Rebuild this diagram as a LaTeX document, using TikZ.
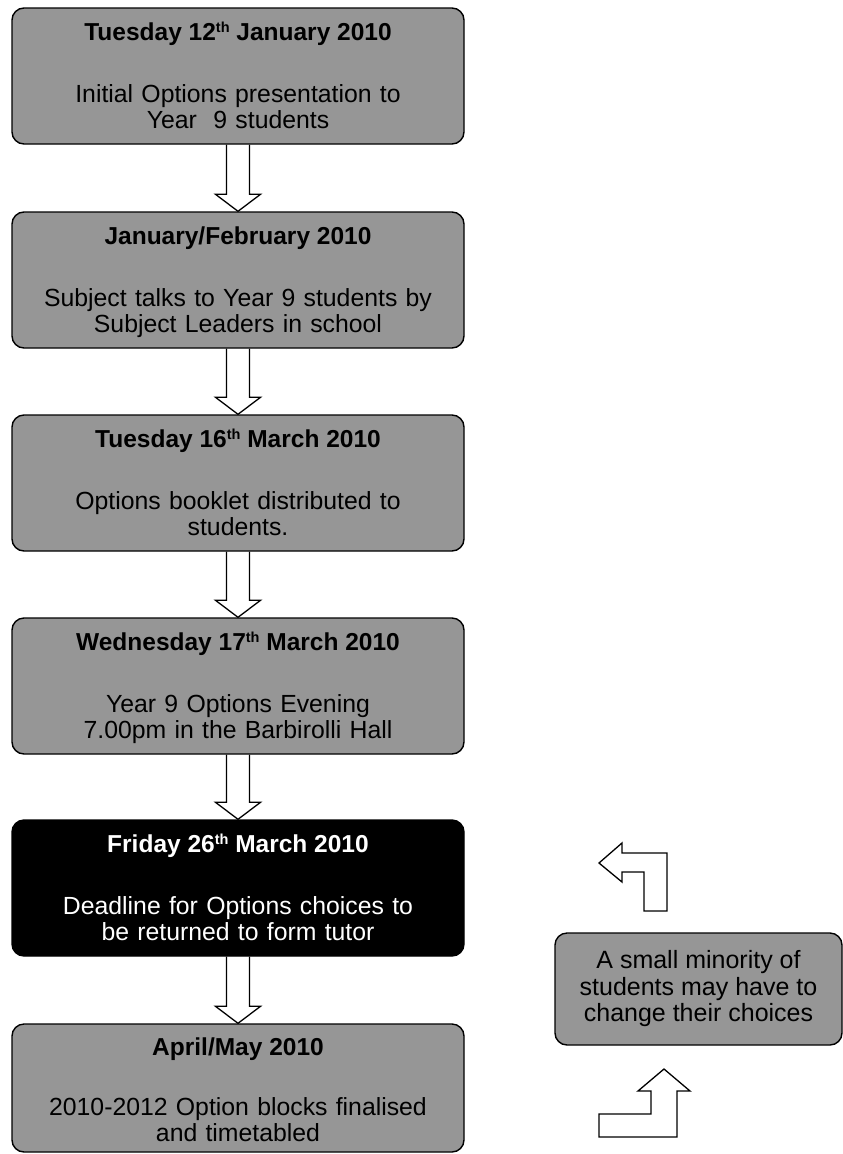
\documentclass[tikz,border=0pt]{standalone}
\usepackage{fontspec}
\setmainfont{Liberation Sans}
\usetikzlibrary{calc,backgrounds}
\definecolor{boxgray}{RGB}{150,150,150}

% small raised ordinal suffix
\newcommand\ordsuffix[1]{\raisebox{8pt}{\fontsize{14.5}{14.5}\selectfont #1}}

% hollow block arrow from the bottom of one stage to the top of the next
\newcommand\flowarrow[2]{%
  \begin{pgfonlayer}{background}
  \draw[hollow] ($(#1.south)+(-11.5,0)$) -- ($(#2.north)+(-11.5,-17)$)
     -- ($(#2.north)+(-22.5,-17)$) -- (#2.north) -- ($(#2.north)+(22.5,-17)$)
     -- ($(#2.north)+(11.5,-17)$) -- ($(#1.south)+(11.5,0)$);
  \end{pgfonlayer}}

\begin{document}
\begin{tikzpicture}[x=1pt,y=-1pt,
  stage/.style={draw=black, line width=1.4pt, fill=boxgray, rounded corners=12pt,
                minimum width=452pt, minimum height=136pt, inner sep=0pt},
  keystage/.style={stage, fill=black},
  heading/.style={font=\fontsize{24.5}{26}\selectfont\bfseries, anchor=base, inner sep=0pt},
  detail/.style={font=\fontsize{24.8}{26}\selectfont, anchor=base, inner sep=0pt,
                 text width=440pt, align=center},
  hollow/.style={draw=black, line width=1.3pt, fill=white, line join=miter},
  note/.style={draw=black, line width=1.4pt, fill=boxgray, rounded corners=12pt,
               minimum width=287pt, minimum height=112pt, inner sep=0pt,
               align=center, font=\fontsize{25}{26.5}\selectfont},
]
\useasboundingbox (0,0) rectangle (843,1154);

% stages of the timeline
\node[stage] (b1) at (238,76) {};
\node[stage] (b2) at (238,280) {};
\node[stage] (b3) at (238,483) {};
\node[stage] (b4) at (238,686) {};
\node[keystage] (b5) at (238,888) {};
\node[stage, minimum height=128pt] (b6) at (238,1088) {};

\node[heading] (t1) at ($(b1.north)+(0,33.5)$) {Tuesday 12\ordsuffix{th} January 2010};
\node[detail] (d1) at ($(b1.north)+(0,95.5)$) {Initial Options presentation to\\Year\ \ 9 students};

\node[heading] (t2) at ($(b2.north)+(0,33.5)$) {January/February 2010};
\node[detail] (d2) at ($(b2.north)+(0,95.5)$) {Subject talks to Year 9 students by\\Subject Leaders in school};

\node[heading] (t3) at ($(b3.north)+(0,33.5)$) {Tuesday 16\ordsuffix{th} March 2010};
\node[detail] (d3) at ($(b3.north)+(0,95.5)$) {Options booklet distributed to\\students.};

\node[heading] (t4) at ($(b4.north)+(0,33.5)$) {Wednesday 17\ordsuffix{th} March 2010};
\node[detail] (d4) at ($(b4.north)+(0,95.5)$) {Year 9 Options Evening\\7.00pm in the Barbirolli Hall};

\node[heading, text=white] (t5) at ($(b5.north)+(0,33.5)$) {Friday 26\ordsuffix{th} March 2010};
\node[detail, text=white] (d5) at ($(b5.north)+(0,95.5)$) {Deadline for Options choices to\\be returned to form tutor};

\node[heading] (t6) at ($(b6.north)+(0,32)$) {April/May 2010};
\node[detail] (d6) at ($(b6.north)+(0,92.5)$) {2010-2012 Option blocks finalised\\and timetabled};

\flowarrow{b1}{b2}
\flowarrow{b2}{b3}
\flowarrow{b3}{b4}
\flowarrow{b4}{b5}
\flowarrow{b5}{b6}

% side note with its two bent arrows
\node[note] (n) at (698.5,989) {A small minority of\\students may have to\\change their choices};

\draw[hollow] (599,863) -- (622,843) -- (622,853) -- (667,853) -- (667,911)
  -- (644,911) -- (644,872) -- (622,872) -- (622,882) -- cycle;
\draw[hollow] (664,1069) -- (690,1091) -- (677,1091) -- (677,1137) -- (599,1137)
  -- (599,1114) -- (651,1114) -- (651,1091) -- (638,1091) -- cycle;
\end{tikzpicture}
\end{document}
